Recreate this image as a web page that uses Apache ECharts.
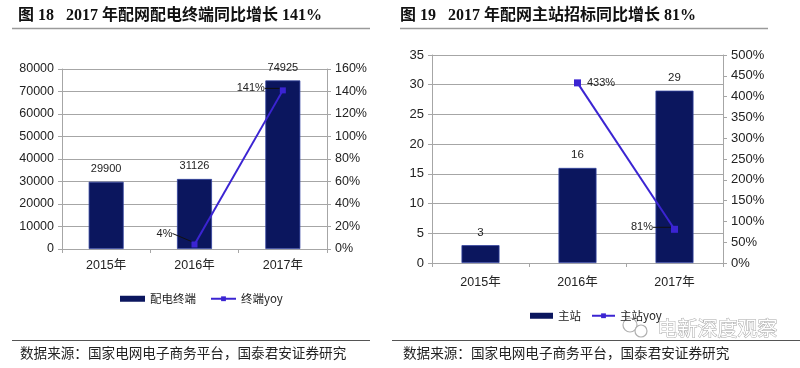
<!DOCTYPE html>
<html><head><meta charset="utf-8">
<script src="https://cdn.jsdelivr.net/npm/echarts@6/dist/echarts.min.js"></script>
<style>html,body{margin:0;padding:0;background:#fff}#c{width:800px;height:368px}</style>
</head><body><div id="c"></div>
<script>
const years = ['2015年', '2016年', '2017年'];
const terminalCounts = [29900, 31126, 74925];
const terminalYoy = [null, 4, 141];
const stationCounts = [3, 16, 29];
const stationYoy = [null, 433, 81];
const leftTicksMax = 80000, leftTicksStep = 10000, leftPctMax = 160, leftPctStep = 20;
const rightTicksMax = 35, rightTicksStep = 5, rightPctMax = 500, rightPctStep = 50;
const titleLeft = '图 18   2017 年配网配电终端同比增长 141%';
const titleRight = '图 19   2017 年配网主站招标同比增长 81%';
const sourceText = '数据来源：国家电网电子商务平台，国泰君安证券研究';

const BAR = '#0b165e', LINE = '#3b24d2';
const NUM = '"Liberation Sans", Arial, "Noto Sans CJK SC", sans-serif';
const CJK = '"Noto Sans CJK SC", sans-serif';
const GRID = '#a6a6a6';

function xAx(g, margin) {
  return {type:'category', gridIndex:g, data:years,
    axisLine:{lineStyle:{color:GRID}}, axisTick:{show:true, length:4, lineStyle:{color:GRID}},
    axisLabel:{color:'#222', fontSize:12.5, fontFamily:NUM, margin:margin}};
}
function yAx(g, max, step, pos, fmt, split, fs) {
  return {type:'value', gridIndex:g, min:0, max:max, interval:step, position:pos,
    axisLine:{show:true, lineStyle:{color:GRID}}, axisTick:{show:true, length:4, lineStyle:{color:GRID}},
    splitLine:{show:split, lineStyle:{color:GRID, width:1}},
    axisLabel:{color:'#222', fontSize:fs, fontFamily:NUM, margin:8, formatter:fmt}};
}
const plain = v => String(v);
const pct = v => v + '%';
const chart = echarts.init(document.getElementById('c'), null, {renderer:'canvas'});
const ttl = {fontSize:16, fontWeight:'bold', color:'#111', fontFamily:'"Liberation Serif", "Noto Sans CJK SC", serif'};
chart.setOption({
  animation:false,
  title:[{text:titleLeft, left:18, top:8, textStyle:ttl, padding:0},
         {text:titleRight, left:400, top:8, textStyle:ttl, padding:0}],
  grid:[{left:62, top:69, width:265, height:180}, {left:432, top:55, width:291, height:208}],
  xAxis:[xAx(0, 10), xAx(1, 13)],
  yAxis:[yAx(0, leftTicksMax, leftTicksStep, 'left', plain, true, 12.5),
         yAx(0, leftPctMax, leftPctStep, 'right', pct, false, 12.5),
         yAx(1, rightTicksMax, rightTicksStep, 'left', plain, true, 13),
         yAx(1, rightPctMax, rightPctStep, 'right', pct, false, 13)],
  legend:[
    {data:[{name:'配电终端', icon:'rect', itemStyle:{borderWidth:0}}, '终端yoy'], left:115, top:288, itemWidth:25, itemHeight:6, itemGap:14,
     textStyle:{fontSize:11.5, color:'#222', fontFamily:CJK}},
    {data:[{name:'主站', icon:'rect', itemStyle:{borderWidth:0}}, '主站yoy'], left:525, top:305, itemWidth:23, itemHeight:6, itemGap:10,
     textStyle:{fontSize:11.5, color:'#222', fontFamily:CJK}}
  ],
  series:[
    {name:'配电终端', type:'bar', xAxisIndex:0, yAxisIndex:0, data:terminalCounts, barWidth:35,
     itemStyle:{color:BAR, borderColor:'#3344a0', borderWidth:0.8},
     label:{show:true, position:'top', distance:7, fontSize:11, color:'#222', fontFamily:NUM}},
    {name:'终端yoy', type:'line', xAxisIndex:0, yAxisIndex:1, data:terminalYoy, symbol:'rect', symbolSize:6,
     lineStyle:{color:LINE, width:2}, itemStyle:{color:LINE},
     label:{show:true, position:'left', distance:5, formatter:'{c}%', fontSize:11, color:'#222', fontFamily:NUM},
     labelLine:{show:true, lineStyle:{color:'#111', width:1}},
     labelLayout:p => p.dataIndex === 1 ? {dx:-14, dy:-11} : {dx:-10, dy:-2}},
    {name:'主站', type:'bar', xAxisIndex:1, yAxisIndex:2, data:stationCounts, barWidth:38,
     itemStyle:{color:BAR, borderColor:'#3344a0', borderWidth:0.8},
     label:{show:true, position:'top', distance:7, fontSize:11.5, color:'#222', fontFamily:NUM}},
    {name:'主站yoy', type:'line', xAxisIndex:1, yAxisIndex:3, symbol:'rect', symbolSize:7,
     data:stationYoy.map((v, i) => i === 2 ? {value:v, label:{position:'left'}} : (i === 1 ? {value:v, labelLine:{show:false}} : v)),
     lineStyle:{color:LINE, width:2}, itemStyle:{color:LINE},
     label:{show:true, distance:6, formatter:'{c}%', fontSize:11, color:'#222', fontFamily:NUM, position:'right'},
     labelLine:{show:true, lineStyle:{color:'#111', width:1}},
     labelLayout:p => p.dataIndex === 2 ? {dx:-12, dy:-2} : {}}
  ],
  graphic:[
    {type:'line', shape:{x1:12, y1:28.5, x2:370, y2:28.5}, style:{stroke:'#9a9a9a', lineWidth:1.5}},
    {type:'line', shape:{x1:400, y1:28.5, x2:768, y2:28.5}, style:{stroke:'#9a9a9a', lineWidth:1.5}},
    {type:'line', shape:{x1:12, y1:340.5, x2:370, y2:340.5}, style:{stroke:'#555', lineWidth:1}},
    {type:'line', shape:{x1:392, y1:340.5, x2:800, y2:340.5}, style:{stroke:'#555', lineWidth:1}},
    {type:'text', left:20, top:346, style:{text:sourceText, fontSize:13.6, fill:'#222', fontFamily:CJK}},
    {type:'text', left:403, top:346, style:{text:sourceText, fontSize:13.6, fill:'#222', fontFamily:CJK}},
    {type:'circle', shape:{cx:630, cy:325, r:7}, style:{fill:'none', stroke:'#b0b0b0', lineWidth:1.2}},
    {type:'circle', shape:{cx:641, cy:331, r:6}, style:{fill:'#fff', stroke:'#b0b0b0', lineWidth:1.2}},
    {type:'text', left:657, top:318, style:{text:'电新深度观察', fontSize:20, fill:'#fff', stroke:'#a8a8a8', lineWidth:1, fontFamily:CJK}}
  ]
});
</script></body></html>
